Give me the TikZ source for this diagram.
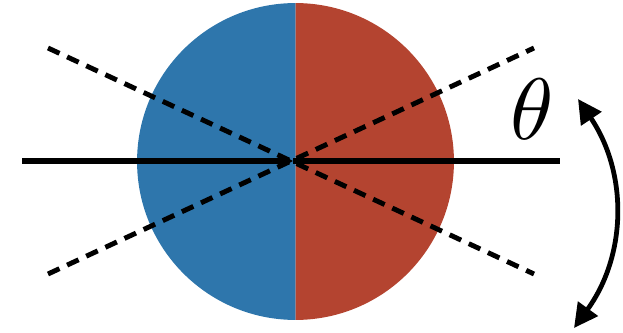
\documentclass[tikz,border=0pt]{standalone}
\usepackage{graphicx,amsmath,amssymb,xcolor}
\definecolor{diskblue}{RGB}{46,118,172}
\definecolor{diskred}{RGB}{180,68,48}
\usetikzlibrary{arrows.meta,positioning,calc}

\begin{document}
\begin{tikzpicture}[x=0.025cm,y=-0.025cm,
    axisline/.style={line width=3.8pt},
    tiltline/.style={line width=3.5pt,dash pattern=on 9pt off 6pt},
    swing/.style={line width=3.4pt,{Triangle[length=17pt,width=17pt]}-{Triangle[length=17pt,width=17pt]}}]
  \useasboundingbox (0,0) rectangle (623,333);
  % disk, two halves
  \coordinate (o) at (295.5,161.5);
  \fill[diskblue] (o) ++(90:3.96cm) arc[start angle=90,end angle=270,radius=3.96cm] -- cycle;
  \fill[diskred] (o) ++(270:3.96cm) arc[start angle=270,end angle=450,radius=3.96cm] -- cycle;
  % lines
  \coordinate (c) at (293,161);
  \coordinate (axL) at (22,161);
  \coordinate (axR) at (560,161);
  \draw[axisline,-{Triangle[length=9pt,width=10pt]}] (axL) -- (c);
  \draw[axisline] (c) -- (axR);
  \coordinate (d1a) at (48,48);
  \coordinate (d1b) at (534,274);
  \coordinate (d2a) at (48,274);
  \coordinate (d2b) at (534,48);
  \draw[tiltline] (d1a) -- (d1b);
  \draw[tiltline] (d2a) -- (d2b);
  % angle
  \node (th) at (532,109) {\scalebox{6.2}{$\theta$}};
  \coordinate (sw1) at (578,99);
  \coordinate (sw2) at (574,328);
  \draw[swing] (sw1) to[bend left=35] (sw2);
\end{tikzpicture}
\end{document}
